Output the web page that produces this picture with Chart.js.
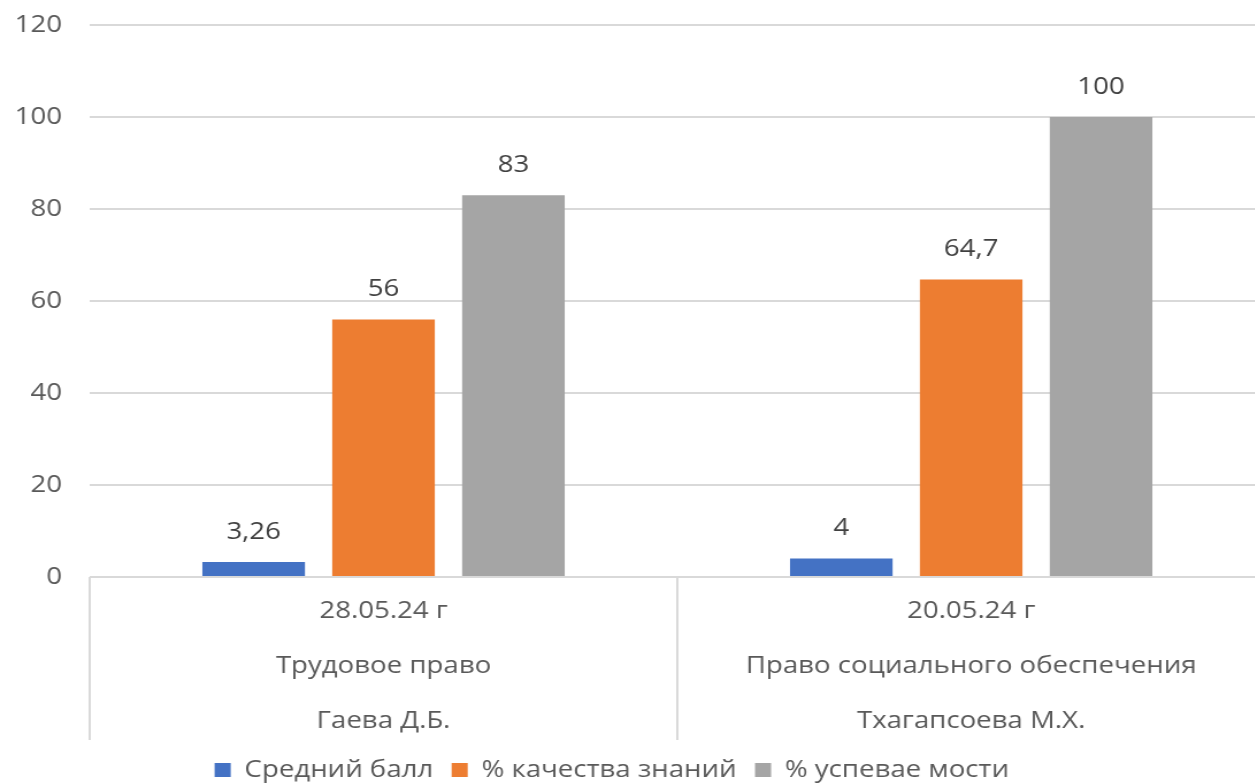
<!DOCTYPE html>
<html><head><meta charset="utf-8">
<script src="https://cdn.jsdelivr.net/npm/chart.js@4.4.1/dist/chart.umd.min.js"></script>
<style>
html,body{margin:0;padding:0;background:#fff;overflow:hidden;width:1255px;height:783px;}
#wrap{position:absolute;left:0;top:0;width:1100px;height:783px;transform:scaleX(1.15);transform-origin:0 0;}
canvas{display:block;}
</style></head><body>
<div id="wrap"><canvas id="c" width="1100" height="783"></canvas></div>
<script>
const categories = [
  ["28.05.24 г", "Трудовое право", "Гаева Д.Б."],
  ["20.05.24 г", "Право социального обеспечения", "Тхагапсоева М.Х."]
];
const seriesNames = ["Средний балл", "% качества знаний", "% успевае мости"];
const avgScore = [3.26, 4];
const qualityPct = [56, 64.7];
const successPct = [83, 100];
const seriesColors = ["#4472C4", "#ED7D31", "#A5A5A5"];
const yMin = 0, yMax = 120, yStep = 20;

const FONT = "'Open Sans', 'Noto Sans', sans-serif";
const TEXT = "#595959";

const separators = {
  id: 'separators',
  afterDraw(chart) {
    const x = chart.scales.x, ca = chart.chartArea, ctx = chart.ctx;
    const n = chart.data.labels.length;
    const half = n > 1 ? (x.getPixelForValue(1) - x.getPixelForValue(0)) / 2 : (ca.right - ca.left) / 2;
    ctx.save();
    ctx.strokeStyle = '#d9d9d9';
    ctx.lineWidth = 2;
    for (let i = 0; i <= n; i++) {
      const px = i < n ? x.getPixelForValue(i) - half : x.getPixelForValue(n - 1) + half;
      ctx.beginPath();
      ctx.moveTo(px, ca.bottom);
      ctx.lineTo(px, 740);
      ctx.stroke();
    }
    ctx.restore();
  }
};

const legendShift = {
  id: 'legendShift',
  afterLayout(chart) {
    const lg = chart.legend;
    if (!lg) return;
    const dy = 9, dx = -18;
    lg.top += dy; lg.bottom += dy;
    lg.left += dx; lg.right += dx;
  }
};

const valueLabels = {
  id: 'valueLabels',
  afterDatasetsDraw(chart) {
    const ctx = chart.ctx;
    ctx.save();
    ctx.font = "24px " + FONT;
    ctx.fillStyle = "#404040";
    ctx.textAlign = 'center';
    ctx.textBaseline = 'middle';
    chart.data.datasets.forEach((ds, di) => {
      chart.getDatasetMeta(di).data.forEach((el, i) => {
        const txt = String(ds.data[i]).replace('.', ',');
        ctx.fillText(txt, el.x, el.y - 30);
      });
    });
    ctx.restore();
  }
};

new Chart(document.getElementById('c'), {
  type: 'bar',
  data: {
    labels: categories,
    datasets: [
      { label: seriesNames[0], data: avgScore, backgroundColor: seriesColors[0] },
      { label: seriesNames[1], data: qualityPct, backgroundColor: seriesColors[1] },
      { label: seriesNames[2], data: successPct, backgroundColor: seriesColors[2] }
    ]
  },
  options: {
    responsive: false,
    animation: false,
    devicePixelRatio: 1,
    layout: { padding: { top: 25, left: 0, right: 0, bottom: 0 } },
    datasets: { bar: { categoryPercentage: 0.663, barPercentage: 0.79 } },
    plugins: {
      tooltip: { enabled: false },
      legend: {
        position: 'bottom',
        labels: {
          font: { family: FONT, size: 24 },
          color: TEXT,
          boxWidth: 14,
          boxHeight: 14,
          padding: 16
        }
      }
    },
    scales: {
      x: {
        offset: true,
        grid: { display: false, drawTicks: false },
        border: { display: false },
        ticks: {
          font: { family: FONT, size: 24, lineHeight: 55 / 24 },
          color: TEXT,
          padding: 7,
          maxRotation: 0,
          autoSkip: false
        },
        afterFit(s) {
          const lh = s.chart.legend ? s.chart.legend.height : 0;
          s.height = 783 - 577 - lh;
        }
      },
      y: {
        min: yMin, max: yMax,
        grid: { color: '#d9d9d9', lineWidth: 2, drawTicks: false },
        border: { display: false },
        ticks: {
          stepSize: yStep,
          font: { family: FONT, size: 24 },
          color: TEXT,
          padding: 24
        },
        afterFit(s) { s.width = 78; s.paddingTop = 0; s.paddingBottom = 0; }
      }
    }
  },
  plugins: [separators, valueLabels, legendShift]
});
</script>
</body></html>
